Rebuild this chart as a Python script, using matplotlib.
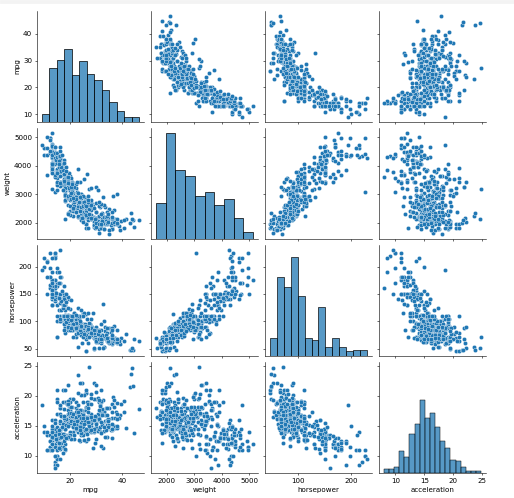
import matplotlib
matplotlib.use('Agg')
import numpy as np
import pandas as pd
import seaborn as sns
import matplotlib.pyplot as plt
from matplotlib.patches import Rectangle

# auto mpg data; the last 6 rows have no horsepower value
mpg = [18, 15, 18, 16, 17, 15, 14, 14, 14, 15, 15, 14, 15, 14, 24, 22, 18, 21, 27, 26,
       25, 24, 25, 26, 21, 10, 10, 11, 9, 27, 28, 25, 19, 16, 17, 19, 18, 14, 14, 14,
       14, 12, 13, 13, 18, 22, 19, 18, 23, 28, 30, 30, 31, 35, 27, 26, 24, 25, 23, 20,
       21, 13, 14, 15, 14, 17, 11, 13, 12, 13, 19, 15, 13, 13, 14, 18, 22, 21, 26, 22,
       28, 23, 28, 27, 13, 14, 13, 14, 15, 12, 13, 13, 14, 13, 12, 13, 18, 16, 18, 18,
       23, 26, 11, 12, 13, 12, 18, 20, 21, 22, 18, 19, 21, 26, 15, 16, 29, 24, 20, 19,
       15, 24, 20, 11, 20, 19, 15, 31, 26, 32, 25, 16, 16, 18, 16, 13, 14, 14, 14, 29,
       26, 26, 31, 32, 28, 24, 26, 24, 26, 31, 19, 18, 15, 15, 16, 15, 16, 14, 17, 16,
       15, 18, 21, 20, 13, 29, 23, 20, 23, 24, 25, 24, 18, 29, 19, 23, 23, 22, 25, 33,
       28, 25, 25, 26, 27, 17.5, 16, 15.5, 14.5, 22, 22, 24, 22.5, 29, 24.5, 29, 33, 20, 18, 18.5,
       17.5, 29.5, 32, 28, 26.5, 20, 13, 19, 19, 16.5, 16.5, 13, 13, 13, 31.5, 30, 36, 25.5, 33.5, 17.5,
       17, 15.5, 15, 17.5, 20.5, 19, 18.5, 16, 15.5, 15.5, 16, 29, 24.5, 26, 25.5, 30.5, 33.5, 30, 30.5, 22,
       21.5, 21.5, 43.1, 36.1, 32.8, 39.4, 36.1, 19.9, 19.4, 20.2, 19.2, 20.5, 20.2, 25.1, 20.5, 19.4, 20.6, 20.8, 18.6, 18.1,
       19.2, 17.7, 18.1, 17.5, 30, 27.5, 27.2, 30.9, 21.1, 23.2, 23.8, 23.9, 20.3, 17, 21.6, 16.2, 31.5, 29.5, 21.5, 19.8,
       22.3, 20.2, 20.6, 17, 17.6, 16.5, 18.2, 16.9, 15.5, 19.2, 18.5, 31.9, 34.1, 35.7, 27.4, 25.4, 23, 27.2, 23.9, 34.2,
       34.5, 31.8, 37.3, 28.4, 28.8, 26.8, 33.5, 41.5, 38.1, 32.1, 37.2, 28, 26.4, 24.3, 19.1, 34.3, 29.8, 31.3, 37, 32.2,
       46.6, 27.9, 40.8, 44.3, 43.4, 36.4, 30, 44.6, 33.8, 29.8, 32.7, 23.7, 35, 32.4, 27.2, 26.6, 25.8, 23.5, 30, 39.1,
       39, 35.1, 32.3, 37, 37.7, 34.1, 34.7, 34.4, 29.9, 33, 33.7, 32.4, 32.9, 31.6, 28.1, 30.7, 25.4, 24.2, 22.4, 26.6,
       20.2, 17.6, 28, 27, 34, 31, 29, 27, 24, 36, 37, 31, 38, 36, 36, 36, 34, 38, 32, 38,
       25, 38, 26, 22, 32, 36, 27, 27, 44, 32, 28, 31,
       25, 21, 40.9, 23.6, 34.5, 23]

horsepower = [130, 165, 150, 150, 140, 198, 220, 215, 225, 190, 170, 160, 150, 225, 95, 95, 97, 85, 88, 46,
              87, 90, 95, 113, 90, 215, 200, 210, 193, 88, 90, 95, 100, 105, 100, 88, 100, 165, 175, 153,
              150, 180, 170, 175, 110, 72, 100, 88, 86, 90, 70, 76, 65, 69, 60, 70, 95, 80, 54, 90,
              86, 165, 175, 150, 153, 150, 208, 155, 160, 190, 97, 150, 130, 140, 150, 112, 76, 87, 69, 86,
              92, 97, 80, 88, 175, 150, 145, 137, 150, 198, 150, 158, 150, 215, 225, 175, 105, 100, 100, 88,
              95, 46, 150, 167, 170, 180, 100, 88, 72, 94, 90, 85, 107, 90, 145, 230, 49, 75, 91, 112,
              150, 110, 122, 180, 95, 100, 100, 67, 80, 65, 75, 100, 110, 105, 140, 150, 150, 140, 150, 83,
              67, 78, 52, 61, 75, 75, 75, 97, 93, 67, 95, 105, 72, 72, 170, 145, 150, 148, 110, 105,
              110, 95, 110, 110, 129, 75, 83, 100, 78, 96, 71, 97, 97, 70, 90, 95, 88, 98, 115, 53,
              86, 81, 92, 79, 83, 140, 150, 120, 152, 100, 105, 81, 90, 52, 60, 70, 53, 100, 78, 110,
              95, 71, 70, 75, 72, 102, 150, 88, 108, 120, 180, 145, 130, 150, 68, 80, 58, 96, 70, 145,
              110, 145, 130, 110, 105, 100, 98, 180, 170, 190, 149, 78, 88, 75, 89, 63, 83, 67, 78, 97,
              110, 110, 48, 66, 52, 70, 60, 110, 140, 139, 105, 95, 85, 88, 100, 90, 105, 85, 110, 120,
              145, 165, 139, 140, 68, 95, 97, 75, 95, 105, 85, 97, 103, 125, 115, 133, 71, 68, 115, 85,
              88, 90, 110, 130, 129, 138, 135, 155, 142, 125, 150, 71, 65, 80, 80, 77, 125, 71, 90, 70,
              70, 65, 69, 90, 115, 115, 90, 76, 60, 70, 65, 90, 88, 90, 90, 78, 90, 75, 92, 75,
              65, 105, 65, 48, 48, 67, 67, 67, 67, 62, 132, 100, 88, 72, 84, 84, 92, 110, 84, 58,
              64, 60, 67, 65, 62, 68, 63, 65, 65, 74, 75, 75, 100, 74, 80, 76, 116, 120, 110, 105,
              88, 85, 88, 88, 88, 85, 84, 90, 92, 74, 68, 68, 63, 70, 88, 75, 70, 67, 67, 67,
              110, 85, 92, 112, 96, 84, 90, 86, 52, 84, 79, 82,
              np.nan, np.nan, np.nan, np.nan, np.nan, np.nan]

weight = [3504, 3693, 3436, 3433, 3449, 4341, 4354, 4312, 4425, 3850, 3563, 3609, 3761, 3086, 2372, 2833, 2774, 2587, 2130, 1835,
          2672, 2430, 2375, 2234, 2648, 4615, 4376, 4382, 4732, 2130, 2264, 2228, 2634, 3439, 3329, 3302, 3288, 4209, 4464, 4154,
          4096, 4955, 4746, 5140, 2962, 2408, 3282, 3139, 2220, 2123, 2074, 2065, 1773, 1613, 1834, 1955, 2278, 2126, 2254, 2408,
          2226, 4274, 4385, 4135, 4129, 3672, 4633, 4502, 4456, 4422, 2330, 3892, 4098, 4294, 4077, 2933, 2511, 2979, 2189, 2395,
          2288, 2506, 2164, 2100, 4100, 3672, 3988, 4042, 3777, 4952, 4464, 4363, 4237, 4735, 4951, 3821, 3121, 3278, 2945, 3021,
          2904, 1950, 4997, 4906, 4654, 4499, 2789, 2279, 2401, 2379, 2124, 2310, 2472, 2265, 4082, 4278, 1867, 2158, 2582, 2868,
          3399, 2660, 2807, 3664, 3102, 2901, 3336, 1950, 2451, 1836, 2542, 3781, 3632, 3613, 4141, 4699, 4457, 4638, 4257, 2219,
          1963, 2300, 1649, 2003, 2125, 2108, 2246, 2489, 2391, 2000, 3264, 3459, 3432, 3158, 4668, 4440, 4498, 4657, 3907, 3897,
          3730, 3785, 3039, 3221, 3169, 2171, 2639, 2914, 2592, 2702, 2223, 2545, 2984, 1937, 3211, 2694, 2957, 2945, 2671, 1795,
          2464, 2220, 2572, 2255, 2202, 4215, 4190, 3962, 4215, 3233, 3353, 3012, 3085, 2035, 2164, 1937, 1795, 3651, 3574, 3645,
          3193, 1825, 1990, 2155, 2565, 3150, 3940, 3270, 2930, 3820, 4380, 4055, 3870, 3755, 2045, 2155, 1825, 2300, 1945, 3880,
          4060, 4140, 4295, 3520, 3425, 3630, 3525, 4220, 4165, 4325, 4335, 1940, 2740, 2265, 2755, 2051, 2075, 1985, 2190, 2815,
          2600, 2720, 1985, 1800, 1985, 2070, 1800, 3365, 3735, 3570, 3535, 3155, 2965, 2720, 3430, 3210, 3380, 3070, 3620, 3410,
          3425, 3445, 3205, 4080, 2155, 2560, 2300, 2230, 2515, 2745, 2855, 2405, 2830, 3140, 2795, 3410, 1990, 2135, 3245, 2990,
          2890, 3265, 3360, 3840, 3725, 3955, 3830, 4360, 4054, 3605, 3940, 1925, 1975, 1915, 2670, 3530, 3900, 3190, 3420, 2200,
          2150, 2020, 2130, 2670, 2595, 2700, 2556, 2144, 1968, 2120, 2019, 2678, 2870, 3003, 3381, 2188, 2711, 2542, 2434, 2265,
          2110, 2800, 2110, 2085, 2335, 2950, 3250, 1850, 2145, 1845, 2910, 2420, 2500, 2290, 2490, 2635, 2620, 2725, 2385, 1755,
          1875, 1760, 2065, 1975, 2050, 1985, 2215, 2045, 2380, 2190, 2210, 2350, 2615, 2635, 3230, 3160, 2900, 2930, 3415, 3725,
          3060, 3465, 2605, 2640, 2395, 2575, 2525, 2735, 2865, 1980, 2025, 1970, 2125, 2125, 2160, 2205, 2245, 1965, 1965, 1995,
          2945, 3015, 2585, 2835, 2665, 2370, 2950, 2790, 2130, 2295, 2625, 2720,
          2046, 2875, 1835, 2905, 2320, 3035]

acceleration = [12.0, 11.5, 11.0, 12.0, 10.5, 10.0, 9.0, 8.5, 10.0, 8.5, 10.0, 8.0, 9.5, 10.0, 15.0, 15.5, 15.5, 16.0, 14.5, 20.5,
                17.5, 14.5, 17.5, 12.5, 15.0, 14.0, 15.0, 13.5, 18.5, 14.5, 15.5, 14.0, 13.0, 15.5, 15.5, 15.5, 15.5, 12.0, 11.5, 13.5,
                13.0, 11.5, 12.0, 12.0, 13.5, 19.0, 15.0, 14.5, 14.0, 14.0, 19.5, 14.5, 19.0, 18.0, 19.0, 20.5, 15.5, 17.0, 23.5, 19.5,
                16.5, 12.0, 12.0, 13.5, 13.0, 11.5, 11.0, 13.5, 13.5, 12.5, 13.5, 12.5, 14.0, 16.0, 14.0, 14.5, 18.0, 19.5, 18.0, 16.0,
                17.0, 14.5, 15.0, 16.5, 13.0, 11.5, 13.0, 14.5, 12.5, 11.5, 12.0, 13.0, 14.5, 11.0, 11.0, 11.0, 16.5, 18.0, 16.0, 16.5,
                16.0, 21.0, 14.0, 12.5, 13.0, 12.5, 15.0, 19.0, 19.5, 16.5, 13.5, 18.5, 14.0, 15.5, 13.0, 9.5, 19.5, 15.5, 14.0, 15.5,
                11.0, 14.0, 13.5, 11.0, 16.5, 16.0, 17.0, 19.0, 16.5, 21.0, 17.0, 17.0, 18.0, 16.5, 14.0, 14.5, 13.5, 16.0, 15.5, 16.5,
                15.5, 14.5, 16.5, 19.0, 14.5, 15.5, 14.0, 15.0, 15.5, 16.0, 16.0, 16.0, 21.0, 19.5, 11.5, 14.0, 14.5, 13.5, 21.0, 18.5,
                19.0, 19.0, 15.0, 13.5, 12.0, 16.0, 17.0, 16.0, 18.5, 13.5, 16.5, 17.0, 14.5, 14.0, 17.0, 15.0, 17.0, 14.5, 13.5, 17.5,
                15.5, 16.9, 14.9, 17.7, 15.3, 13.0, 13.0, 13.9, 12.8, 15.4, 14.5, 17.6, 17.6, 22.2, 22.1, 14.2, 17.4, 17.7, 21.0, 16.2,
                17.8, 12.2, 17.0, 16.4, 13.6, 15.7, 13.2, 21.9, 15.5, 16.7, 12.1, 12.0, 15.0, 14.0, 18.5, 14.8, 18.6, 15.5, 16.8, 12.5,
                19.0, 13.7, 14.9, 16.4, 16.9, 17.7, 19.0, 11.1, 11.4, 12.2, 14.5, 14.5, 16.0, 18.2, 15.8, 17.0, 15.9, 16.4, 14.1, 14.5,
                12.8, 13.5, 21.5, 14.4, 19.4, 18.6, 16.4, 15.5, 13.2, 12.8, 19.2, 18.2, 15.8, 15.4, 17.2, 17.2, 15.8, 16.7, 18.7, 15.1,
                13.2, 13.4, 11.2, 13.7, 16.5, 14.2, 14.7, 14.5, 14.8, 16.7, 17.6, 14.9, 15.9, 13.6, 15.7, 15.8, 14.9, 16.6, 15.4, 18.2,
                17.3, 18.2, 16.6, 15.4, 13.4, 13.2, 15.2, 14.9, 14.3, 15.0, 13.0, 14.0, 15.2, 14.4, 15.0, 20.1, 17.4, 24.8, 22.2, 13.2,
                14.9, 19.2, 14.7, 16.0, 11.3, 12.9, 13.2, 14.7, 18.8, 15.5, 16.4, 16.5, 18.1, 20.1, 18.7, 15.8, 15.5, 17.5, 15.0, 15.2,
                17.9, 14.4, 19.2, 21.7, 23.7, 19.9, 21.8, 13.8, 18.0, 15.3, 11.4, 12.5, 15.1, 17.0, 15.7, 16.4, 14.4, 12.6, 12.9, 16.9,
                16.4, 16.1, 17.8, 19.4, 17.3, 16.0, 14.9, 16.2, 20.7, 14.2, 14.4, 16.8, 14.8, 18.3, 20.4, 19.6, 12.6, 13.8, 15.8, 19.0,
                17.1, 16.6, 19.6, 18.6, 18.0, 16.2, 16.0, 18.0, 16.4, 15.3, 18.2, 17.6, 14.7, 17.3, 14.5, 14.5, 16.9, 15.0, 15.7, 16.2,
                16.4, 17.0, 14.5, 14.7, 13.9, 13.0, 17.3, 15.6, 24.6, 11.6, 18.6, 19.4,
                19.0, 17.0, 17.3, 14.3, 15.8, 20.5]

df = pd.DataFrame({'mpg': mpg, 'weight': weight,
                   'horsepower': horsepower, 'acceleration': acceleration})

g = sns.pairplot(df)
fig = g.figure
fig.set_dpi(51.4)
fig.set_size_inches(514 / 51.4, 498 / 51.4)
fig.subplots_adjust(left=37 / 514, right=486 / 514, bottom=1 - 473 / 498,
                    top=1 - 11 / 498, wspace=0.065, hspace=0.055)

# thin grey strip along the top edge
fig.add_artist(Rectangle((0, 1 - 3 / 498), 1, 3 / 498, transform=fig.transFigure,
                         color='#f3f3f3', zorder=0))

fig.savefig('out.png', dpi=51.4)
